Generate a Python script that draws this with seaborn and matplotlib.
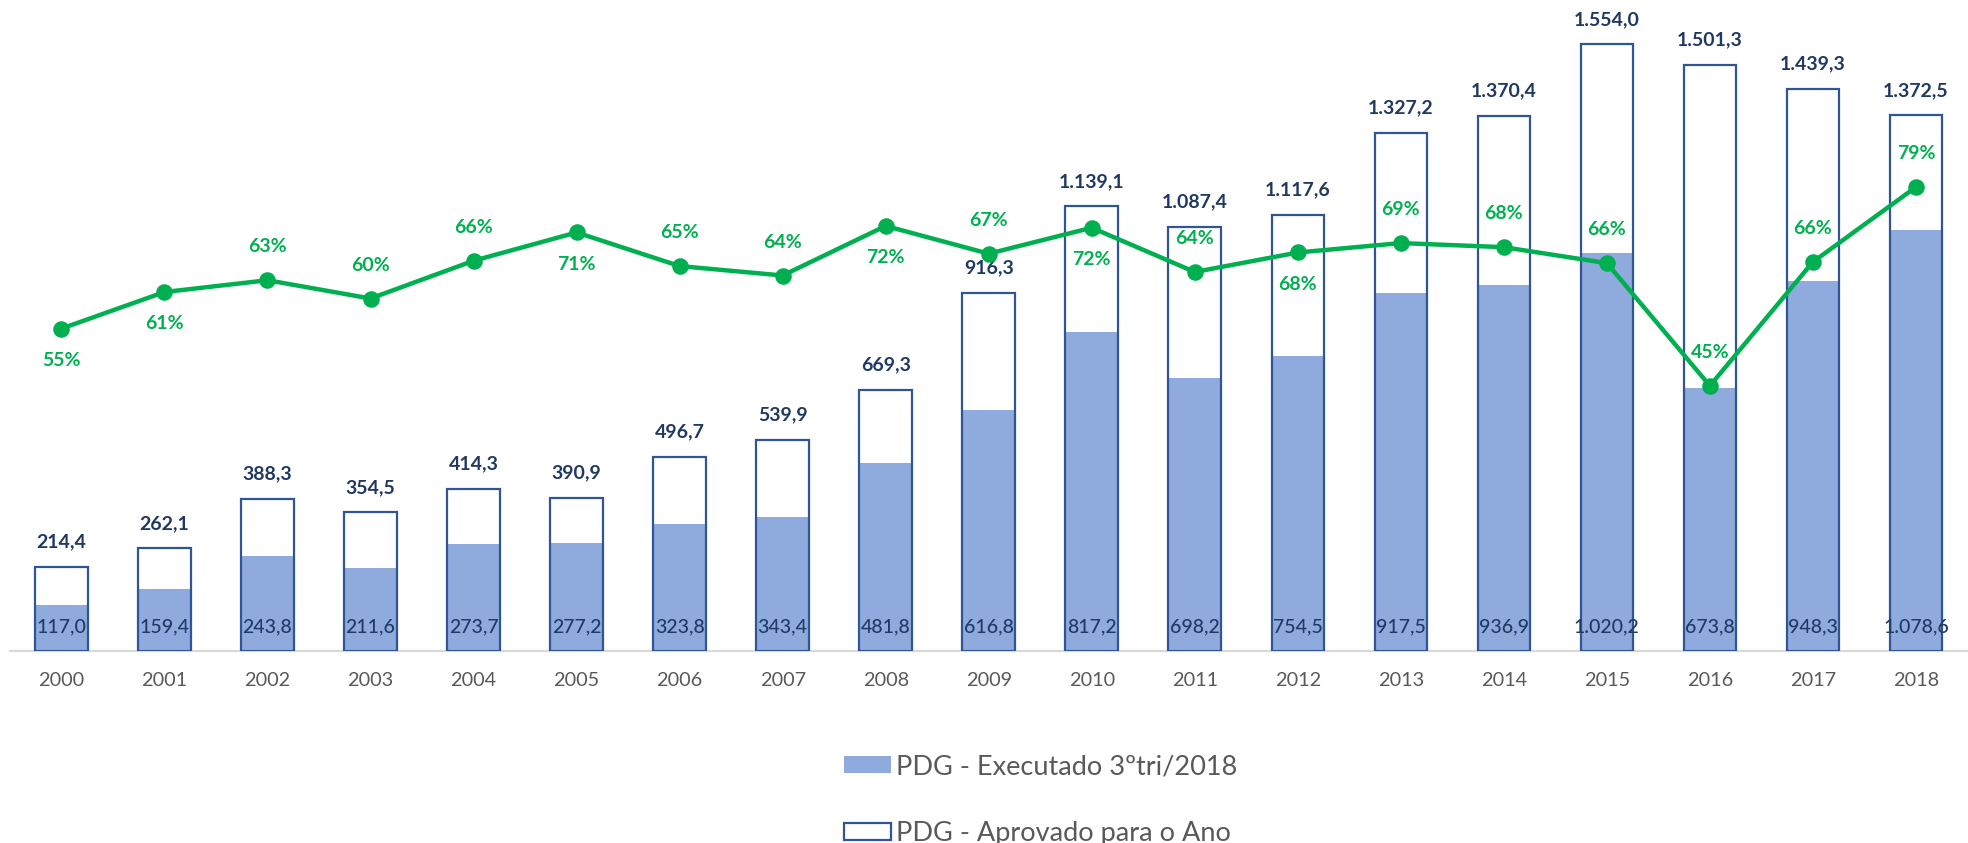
import matplotlib
matplotlib.use("Agg")
import matplotlib.pyplot as plt
from matplotlib.patches import Patch
import seaborn as sns
import pandas as pd

years = ["2000", "2001", "2002", "2003", "2004", "2005", "2006", "2007", "2008", "2009",
         "2010", "2011", "2012", "2013", "2014", "2015", "2016", "2017", "2018"]
approved = [214.4, 262.1, 388.3, 354.5, 414.3, 390.9, 496.7, 539.9, 669.3, 916.3,
            1139.1, 1087.4, 1117.6, 1327.2, 1370.4, 1554.0, 1501.3, 1439.3, 1372.5]
executed = [117.0, 159.4, 243.8, 211.6, 273.7, 277.2, 323.8, 343.4, 481.8, 616.8,
            817.2, 698.2, 754.5, 917.5, 936.9, 1020.2, 673.8, 948.3, 1078.6]
pct = [0.546, 0.608, 0.628, 0.597, 0.661, 0.709, 0.652, 0.636, 0.720, 0.673,
       0.717, 0.642, 0.675, 0.691, 0.684, 0.657, 0.449, 0.659, 0.786]
pct_above = [False, False, True, True, True, False, True, True, False, True,
             False, True, False, True, True, True, True, True, True]

label_exec = "PDG - Executado 3ºtri/2018"
label_appr = "PDG - Aprovado para o Ano"

df = pd.DataFrame({"year": years, "approved": approved, "executed": executed, "pct": pct})

sns.set_theme(style="white")
plt.rcParams["font.family"] = ["Lato", "DejaVu Sans"]

FILL = "#8FAADC"
EDGE = "#2F5597"
NAVY = "#1F3864"
INNER = "#203A66"
GREEN = "#00B050"
GRAY = "#595959"


def br(v):
    s = f"{v:,.1f}"
    return s.replace(",", "X").replace(".", ",").replace("X", ".")


fig = plt.figure(figsize=(19.68, 8.43), dpi=100)
ax = fig.add_axes([0.00503, 0.2281, 0.9947, 0.7719])

sns.barplot(data=df, x="year", y="executed", color=FILL, saturation=1, width=0.51,
            linewidth=0, ax=ax, zorder=2)
sns.barplot(data=df, x="year", y="approved", color=EDGE, saturation=1, width=0.51,
            fill=False, linewidth=1.6, ax=ax, zorder=3)

ax.set_xlim(-0.5, len(years) - 0.5)
ax.set_ylim(0, 1668)
ax.set_xlabel("")
ax.set_ylabel("")
ax.set_yticks([])
for s in ["left", "right", "top"]:
    ax.spines[s].set_visible(False)
ax.spines["bottom"].set_color("#D9D9D9")
ax.spines["bottom"].set_linewidth(1.6)
ax.tick_params(axis="x", length=0, pad=15.5, labelsize=14.3, labelcolor=GRAY)

for i, (a, e) in enumerate(zip(approved, executed)):
    ax.annotate(br(a), (i, a), xytext=(0, 18), textcoords="offset points",
                ha="center", va="center", fontsize=14, fontweight="bold", color=NAVY,
                annotation_clip=False)
    ax.annotate(br(e), (i, 0), xytext=(0, 17), textcoords="offset points",
                ha="center", va="center", fontsize=14, fontweight="medium",
                color=INNER, zorder=5)

ax2 = ax.twinx()
sns.pointplot(data=df, x="year", y="pct", color=GREEN, markers="o", markersize=9.5,
              linewidth=3.2, ax=ax2)
ax2.set_ylim(0, 1.103)
ax2.set_xlim(-0.5, len(years) - 0.5)
ax2.set_yticks([])
ax2.set_ylabel("")
ax2.set_xlabel("")
for s in ax2.spines.values():
    s.set_visible(False)

for i, (p, up) in enumerate(zip(pct, pct_above)):
    ax2.annotate(f"{round(p * 100):d}%", (i, p), xytext=(0, 24 if up else -23),
                 textcoords="offset points", ha="center", va="center",
                 fontsize=14, fontweight="bold", color=GREEN, annotation_clip=False)

handles = [Patch(facecolor=FILL, edgecolor="none", label=label_exec),
           Patch(facecolor="white", edgecolor=EDGE, linewidth=1.6, label=label_appr)]
leg = fig.legend(handles=handles, loc="center", bbox_to_anchor=(0.5286, 0.051),
                 frameon=False, fontsize=19.5, handlelength=1.75, handleheight=0.6,
                 handletextpad=0.18, labelspacing=1.55, borderpad=0)
for t in leg.get_texts():
    t.set_color(GRAY)

fig.savefig("out.png", dpi=100)
